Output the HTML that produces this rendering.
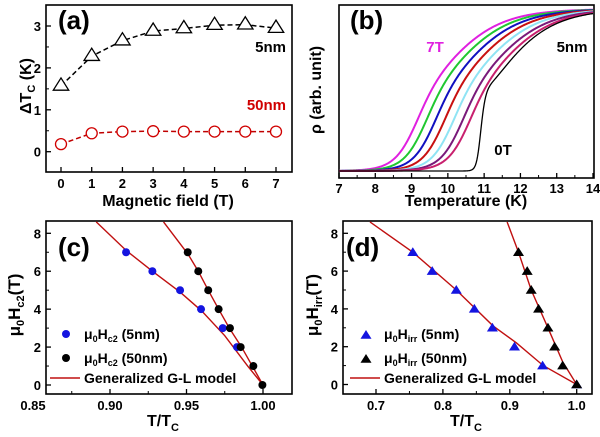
<!DOCTYPE html>
<html><head><meta charset="utf-8"><style>
html,body{margin:0;padding:0;background:#fff;}
svg{display:block;font-family:"Liberation Sans",sans-serif;font-weight:bold;}
</style></head><body>
<svg id="fig" width="600" height="437" viewBox="0 0 600 437" xmlns="http://www.w3.org/2000/svg"></svg>
<script>
// ---- Panel (a) data
const aFields=[0,1,2,3,4,5,6,7];
const a5nm=[1.57,2.28,2.65,2.88,2.94,3.02,3.03,2.95];
const a50nm=[0.18,0.44,0.48,0.49,0.48,0.48,0.48,0.48];
const aYTicks=[0,1,2,3];
// ---- Panel (b) data
const bFields=[0,1,2,3,4,5,6,7];
const bTmid=[11.1,11.0,10.8,10.55,10.3,10.05,9.8,9.55];
const bLowW=[0.08,0.38,0.38,0.38,0.38,0.38,0.38,0.38];
const bHighW=[0.82,0.82,0.82,0.82,0.82,0.82,0.82,0.82];
const bBlend=[0.1,0.4,0.4,0.4,0.4,0.4,0.4,0.4];
const bColors=["#000","#c8206e","#7a1a7a","#90e4f4","#c81010","#1010c0","#20c830","#e020e0"];
const bXTicks=[7,8,9,10,11,12,13,14];
// ---- Panel (c) data
const c5T=[0.9105,0.9277,0.9458,0.9595,0.9737,0.983];
const c5H=[7,6,5,4,3,2];
const c50T=[0.9508,0.9577,0.9642,0.971,0.9784,0.9854,0.9937,0.9996];
const c50H=[7,6,5,4,3,2,1,0];
const cFit5T=[0.891,0.9105,0.9277,0.9458,0.96,0.975,0.99,1.0];
const cFit5H=[8.6,7.1,6.0,4.9,3.9,2.6,1.0,0];
const cFit50T=[0.935,0.951,0.9577,0.9642,0.971,0.978,0.986,0.993,1.0];
const cFit50H=[8.6,6.9,6.0,5.0,4.0,3.0,2.0,1.0,0];
const cXTicks=[0.85,0.90,0.95,1.00];
const cYTicks=[0,2,4,6,8];
// ---- Panel (d) data
const d5T=[0.755,0.784,0.820,0.847,0.874,0.907,0.949,1.0];
const d5H=[7,6,5,4,3,2,1,0];
const d50T=[0.913,0.926,0.932,0.943,0.957,0.967,0.979,1.0];
const d50H=[7,6,5,4,3,2,1,0];
const dFit5T=[0.691,0.755,0.82,0.875,0.91,0.95,1.0];
const dFit5H=[8.6,7.0,5.0,3.1,2.2,1.0,0];
const dFit50T=[0.896,0.913,0.932,0.957,0.979,1.0];
const dFit50H=[8.6,7.0,5.0,3.0,1.2,0];
const dXTicks=[0.7,0.8,0.9,1.0];
const dYTicks=[0,2,4,6,8];

const NS="http://www.w3.org/2000/svg";
const svg=document.getElementById('fig');
function mk(tag,attrs,parent,text){const e=document.createElementNS(NS,tag);for(const k in attrs)e.setAttribute(k,attrs[k]);if(text!==undefined)e.textContent=text;(parent||svg).appendChild(e);return e;}
function lin(d0,d1,p0,p1){return v=>p0+(v-d0)*(p1-p0)/(d1-d0);}
function grp(name){const g=mk('g',{});return g;}
function frame(g,x0,y0,x1,y1){const r=mk('rect',{x:x0,y:y0,width:x1-x0,height:y1-y0,fill:'none',stroke:'#000','stroke-width':1.6},g);}
function xticks(g,vals,minor,sx,y1,fmt,ly){
  vals.forEach(v=>{mk('line',{x1:sx(v),x2:sx(v),y1:y1,y2:y1-5,stroke:'#000','stroke-width':1.3},g);
    const t=mk('text',{x:sx(v),y:ly,'font-size':13,'text-anchor':'middle'},g,fmt(v));});
  minor.forEach(v=>mk('line',{x1:sx(v),x2:sx(v),y1:y1,y2:y1-3,stroke:'#000','stroke-width':1},g));
}
function yticks(g,vals,minor,sy,x0,fmt,lx){
  vals.forEach(v=>{mk('line',{x1:x0,x2:x0+5,y1:sy(v),y2:sy(v),stroke:'#000','stroke-width':1.3},g);
    const t=mk('text',{x:lx,y:sy(v)+5,'font-size':13,'text-anchor':'end'},g,fmt(v));});
  minor.forEach(v=>mk('line',{x1:x0,x2:x0+3,y1:sy(v),y2:sy(v),stroke:'#000','stroke-width':1},g));
}
function poly(g,xs,ys,sx,sy,attrs,name){const p=mk('polyline',Object.assign({points:xs.map((x,i)=>sx(x)+','+sy(ys[i])).join(' '),fill:'none'},attrs),g);return p;}
function tri(g,cx,cy,r,attrs){return mk('polygon',Object.assign({points:`${cx},${cy-r} ${cx-r*1.1},${cy+r*0.75} ${cx+r*1.1},${cy+r*0.75}`},attrs),g);}
function label(g,x,y,txt,size,name,extra){const t=mk('text',Object.assign({x:x,y:y,'font-size':size},extra||{}),g);t.innerHTML=txt;return t;}

// ===== Panel a
(function(){
  const g=grp('panel-a');
  const sx=lin(0,7,61,276), sy=lin(0,3,151.7,26);
  frame(g,46,5,292,172);
  xticks(g,aFields,[],sx,172,v=>v,188);
  yticks(g,aYTicks,[0.5,1.5,2.5],sy,46,v=>v,41);
  poly(g,aFields,a5nm,sx,sy,{stroke:'#000','stroke-width':1.5,'stroke-dasharray':'5,3'},'line-5nm');
  poly(g,aFields,a50nm,sx,sy,{stroke:'#c00000','stroke-width':1.5,'stroke-dasharray':'5,3'},'line-50nm');
  aFields.forEach((f,i)=>{const t=tri(g,sx(f),sy(a5nm[i])-1,7,{fill:'#fff',stroke:'#000','stroke-width':1.3});});
  aFields.forEach((f,i)=>{const c=mk('circle',{cx:sx(f),cy:sy(a50nm[i]),r:5.5,fill:'#fff',stroke:'#d00000','stroke-width':1.3},g);});
  label(g,58,29,'(a)',26,'panel-label-a');
  label(g,286,52,'5nm',15,'label-5nm',{'text-anchor':'end'});
  label(g,286,110,'50nm',15,'label-50nm',{'text-anchor':'end',fill:'#d00000'});
  label(g,168,206,'Magnetic field (T)',16,'x-axis-title',{'text-anchor':'middle'});
  label(g,0,0,'ΔT<tspan font-size="11" dy="4">C</tspan><tspan dy="-4"> (K)</tspan>',16,'y-axis-title',{'text-anchor':'middle',transform:'translate(31,86) rotate(-90)'});
})();

// ===== Panel b
(function(){
  const g=grp('panel-b');
  const sx=lin(7,14,339,593), sy=lin(0,1,171,9);
  frame(g,339,5,594,178);
  xticks(g,bXTicks,[7.5,8.5,9.5,10.5,11.5,12.5,13.5],sx,178,v=>v,193);
  const Ts=[];for(let T=7;T<=14.001;T+=0.02)Ts.push(+T.toFixed(3));
  for(let i=bFields.length-1;i>=0;i--){
    const r=Ts.map(T=>{const s=1/(1+Math.exp(-(T-bTmid[i])/bBlend[i]));const w=bLowW[i]+(bHighW[i]-bLowW[i])*s;return 1/(1+Math.exp(-(T-bTmid[i])/w));});
    poly(g,Ts,r,sx,sy,{stroke:bColors[i],'stroke-width':i===0?1.3:2},'curve-'+bFields[i]+'T');
  }
  label(g,350,29,'(b)',26,'panel-label-b');
  label(g,435,52,'7T',15,'label-7T',{'text-anchor':'middle',fill:'#e020e0'});
  label(g,572,52,'5nm',15,'label-5nm-b',{'text-anchor':'middle'});
  label(g,503,155,'0T',15,'label-0T',{'text-anchor':'middle'});
  label(g,466,206,'Temperature (K)',16,'x-axis-title-b',{'text-anchor':'middle'});
  label(g,0,0,'ρ (arb. unit)',16,'y-axis-title-b',{'text-anchor':'middle',transform:'translate(321,90) rotate(-90)'});
})();

// ===== Panel c
(function(){
  const g=grp('panel-c');
  const sx=lin(0.90,1.00,110,263), sy=lin(0,8,385,233.3);
  frame(g,46,221,292,394);
  xticks(g,cXTicks.filter(v=>sx(v)>46),[0.875,0.925,0.975],sx,394,v=>v.toFixed(2),410);
  label(g,33,410,'0.85',13,'x-tick-label',{'text-anchor':'middle'});
  yticks(g,cYTicks,[1,3,5,7],sy,46,v=>v,41);
  poly(g,cFit5T,cFit5H,sx,sy,{stroke:'#c01010','stroke-width':1.4},'fit-5nm');
  poly(g,cFit50T,cFit50H,sx,sy,{stroke:'#c01010','stroke-width':1.4},'fit-50nm');
  c5T.forEach((t,i)=>{const c=mk('circle',{cx:sx(t),cy:sy(c5H[i]),r:4,fill:'#1414e0'},g);});
  c50T.forEach((t,i)=>{const c=mk('circle',{cx:sx(t),cy:sy(c50H[i]),r:4,fill:'#000'},g);});
  label(g,58,256,'(c)',26,'panel-label-c');
  const l1=mk('circle',{cx:66,cy:334,r:4,fill:'#1414e0'},g);
  const l2=mk('circle',{cx:66,cy:358,r:4,fill:'#000'},g);
  const l3=mk('line',{x1:50,x2:80,y1:378,y2:378,stroke:'#c01010','stroke-width':1.4},g);
  label(g,84,339,'μ<tspan font-size="9" dy="3">0</tspan><tspan dy="-3">H</tspan><tspan font-size="9" dy="3">c2</tspan><tspan dy="-3"> (5nm)</tspan>',14,'legend-entry-5nm');
  label(g,84,363,'μ<tspan font-size="9" dy="3">0</tspan><tspan dy="-3">H</tspan><tspan font-size="9" dy="3">c2</tspan><tspan dy="-3"> (50nm)</tspan>',14,'legend-entry-50nm');
  label(g,84,383,'Generalized G-L model',14,'legend-entry-fit');
  label(g,163,426,'T/T<tspan font-size="11" dy="5">C</tspan>',16,'x-axis-title-c',{'text-anchor':'middle'});
  label(g,0,0,'μ<tspan font-size="11" dy="4">0</tspan><tspan dy="-4">H</tspan><tspan font-size="11" dy="4">c2</tspan><tspan dy="-4">(T)</tspan>',17,'y-axis-title-c',{'text-anchor':'middle',transform:'translate(20,305) rotate(-90)'});
})();

// ===== Panel d
(function(){
  const g=grp('panel-d');
  const sx=lin(0.7,1.0,376,576.7), sy=lin(0,8,384.5,233.3);
  frame(g,343,221,592,394);
  xticks(g,dXTicks,[0.65,0.75,0.85,0.95].filter(v=>sx(v)>343),sx,394,v=>v.toFixed(1),410);
  yticks(g,dYTicks,[1,3,5,7],sy,343,v=>v,338);
  poly(g,dFit5T,dFit5H,sx,sy,{stroke:'#c01010','stroke-width':1.4},'fit-5nm-d');
  poly(g,dFit50T,dFit50H,sx,sy,{stroke:'#c01010','stroke-width':1.4},'fit-50nm-d');
  d5T.forEach((t,i)=>{const p=tri(g,sx(t),sy(d5H[i]),5,{fill:'#1414e0'});});
  d50T.forEach((t,i)=>{const p=tri(g,sx(t),sy(d50H[i]),5,{fill:'#000'});});
  label(g,346,256,'(d)',26,'panel-label-d');
  const l1=tri(g,366,335,5,{fill:'#1414e0'});
  const l2=tri(g,366,359,5,{fill:'#000'});
  const l3=mk('line',{x1:350,x2:380,y1:378,y2:378,stroke:'#c01010','stroke-width':1.4},g);
  label(g,384,339,'μ<tspan font-size="9" dy="3">0</tspan><tspan dy="-3">H</tspan><tspan font-size="9" dy="3">irr</tspan><tspan dy="-3"> (5nm)</tspan>',14,'legend-entry-5nm-d');
  label(g,384,363,'μ<tspan font-size="9" dy="3">0</tspan><tspan dy="-3">H</tspan><tspan font-size="9" dy="3">irr</tspan><tspan dy="-3"> (50nm)</tspan>',14,'legend-entry-50nm-d');
  label(g,384,383,'Generalized G-L model',14,'legend-entry-fit-d');
  label(g,466,426,'T/T<tspan font-size="11" dy="5">C</tspan>',16,'x-axis-title-d',{'text-anchor':'middle'});
  label(g,0,0,'μ<tspan font-size="11" dy="4">0</tspan><tspan dy="-4">H</tspan><tspan font-size="11" dy="4">irr</tspan><tspan dy="-4">(T)</tspan>',17,'y-axis-title-d',{'text-anchor':'middle',transform:'translate(318,305) rotate(-90)'});
})();
</script>
</body></html>
